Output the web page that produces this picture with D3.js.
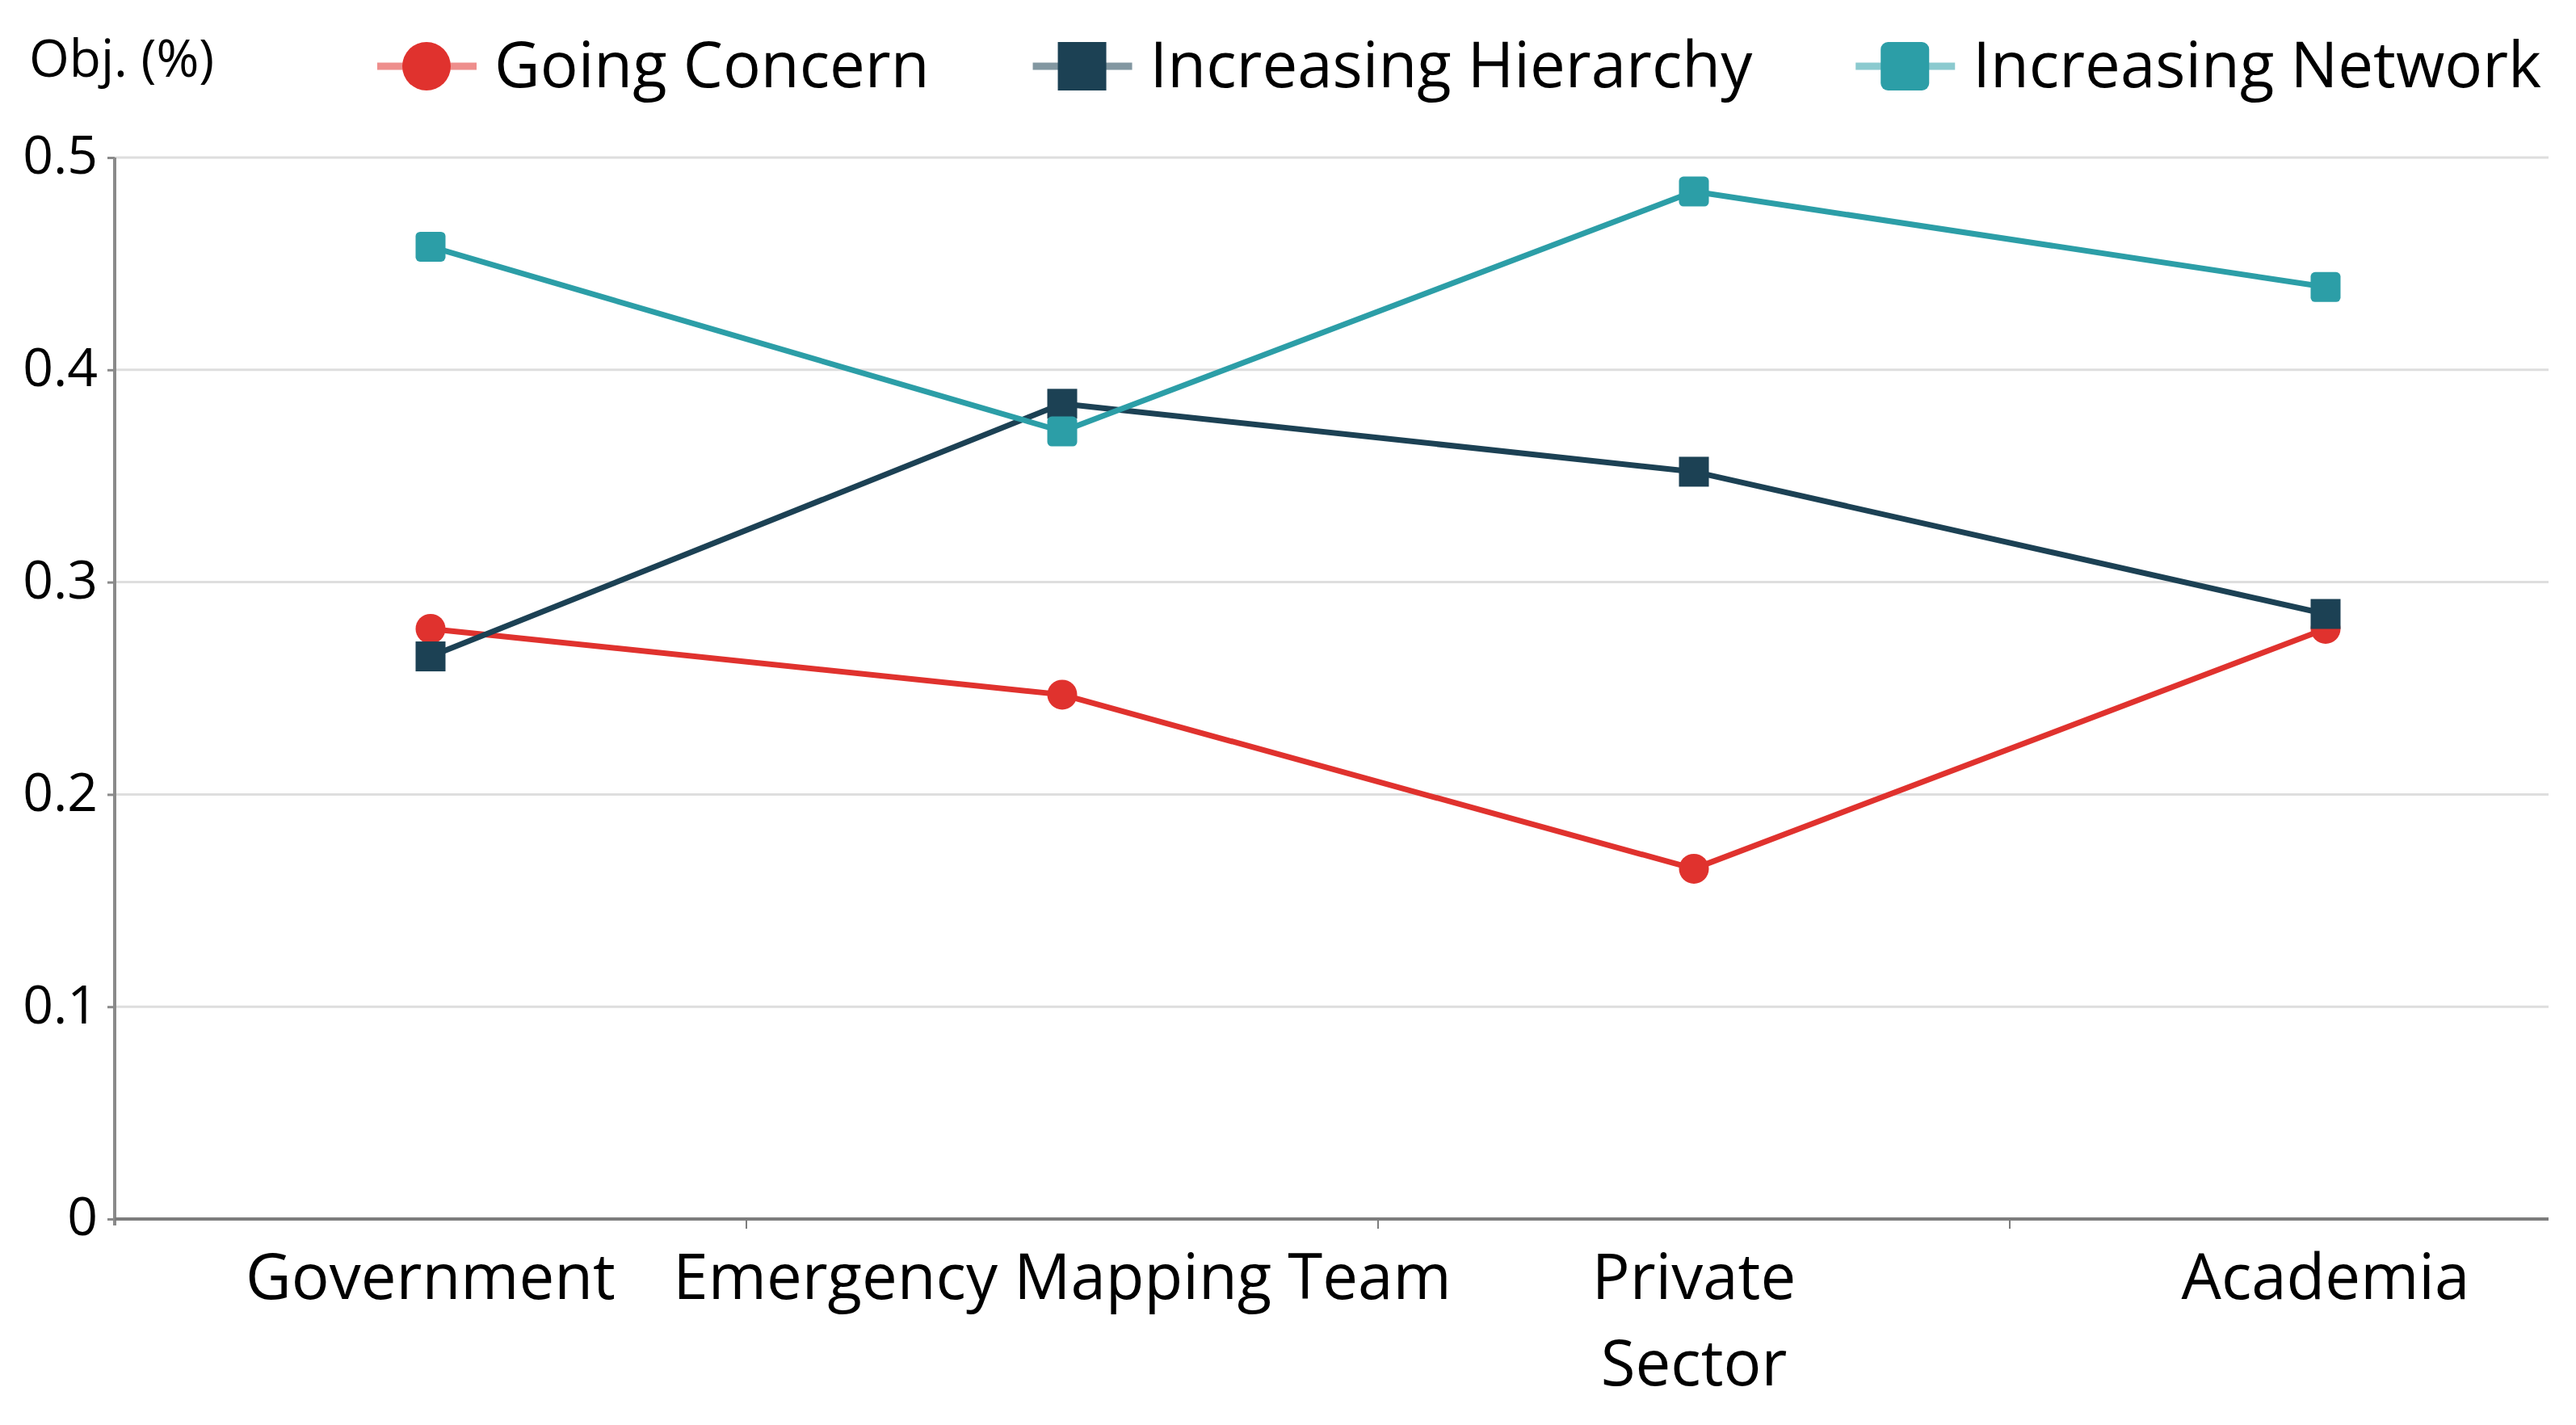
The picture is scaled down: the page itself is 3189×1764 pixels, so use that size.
<!DOCTYPE html>
<html>
<head>
<meta charset="utf-8">
<script src="https://cdn.jsdelivr.net/npm/d3@7"></script>
<style>
  body { margin: 0; background: #fff; }
  text { font-family: "Open Sans", sans-serif; fill: #000; }
</style>
</head>
<body>
<script>
// data
var categories = ["Government", "Emergency Mapping Team", "Private Sector", "Academia"];
var categoryLines = [["Government"], ["Emergency Mapping Team"], ["Private", "Sector"], ["Academia"]];
var goingConcern = [0.278, 0.247, 0.165, 0.278];
var increasingHierarchy = [0.265, 0.384, 0.352, 0.285];
var increasingNetwork = [0.458, 0.371, 0.484, 0.439];
var yTicks = [0, 0.1, 0.2, 0.3, 0.4, 0.5];

var series = [
  {name: "Going Concern", values: goingConcern, color: "#e0322e", shape: "circle"},
  {name: "Increasing Hierarchy", values: increasingHierarchy, color: "#1c4154", shape: "square"},
  {name: "Increasing Network", values: increasingNetwork, color: "#2c9ea7", shape: "rsquare"}
];

var W = 3189, H = 1764;
var plotLeft = 142, plotRight = 3155, plotTop = 195, plotBottom = 1509;

var svg = d3.select("body").append("svg").attr("width", W).attr("height", H);
svg.append("rect").attr("width", W).attr("height", H).attr("fill", "#fff");

// band width is wider than the visible area, the last band is cut at the right
var x = d3.scaleBand().domain(categories).range([plotLeft, plotLeft + 4 * 782]);
var y = d3.scaleLinear().domain([0, 0.5]).range([plotBottom, plotTop]);

// grid lines
svg.append("g").selectAll("line").data(yTicks.filter(d => d > 0)).enter().append("line")
  .attr("x1", plotLeft).attr("x2", plotRight)
  .attr("y1", d => y(d)).attr("y2", d => y(d))
  .attr("stroke", "#dedede").attr("stroke-width", 3);

// y axis
var yAxis = svg.append("g").attr("transform", "translate(" + plotLeft + ",0)")
  .call(d3.axisLeft(y).tickValues(yTicks).tickSize(9).tickPadding(12).tickFormat(d => d === 0 ? "0" : d3.format(".1f")(d)));
yAxis.select(".domain").remove();
yAxis.selectAll(".tick line").attr("stroke", "#8a8a8a").attr("stroke-width", 3);
yAxis.selectAll(".tick text").attr("font-size", 66).attr("font-family", "Open Sans").attr("fill", "#000").attr("dy", "0.3em");
svg.append("line").attr("x1", plotLeft).attr("x2", plotLeft).attr("y1", plotTop).attr("y2", plotBottom + 8)
  .attr("stroke", "#8a8a8a").attr("stroke-width", 4);

// x axis
svg.append("line").attr("x1", plotLeft).attr("x2", plotRight).attr("y1", plotBottom).attr("y2", plotBottom)
  .attr("stroke", "#7d7d7d").attr("stroke-width", 4);
svg.append("g").selectAll("line").data(categories.slice(1)).enter().append("line")
  .attr("x1", d => x(d)).attr("x2", d => x(d))
  .attr("y1", plotBottom).attr("y2", plotBottom + 12)
  .attr("stroke", "#7d7d7d").attr("stroke-width", 2);

var xl = svg.append("g").selectAll("text").data(categories).enter().append("text")
  .attr("x", d => x(d) + x.bandwidth() / 2)
  .attr("y", 1608)
  .attr("text-anchor", "middle")
  .attr("font-size", 78);
xl.each(function(d, i) {
  var t = d3.select(this);
  categoryLines[i].forEach(function(line, j) {
    t.append("tspan").attr("x", x(d) + x.bandwidth() / 2).attr("dy", j === 0 ? 0 : 107).text(line);
  });
});

// lines and markers
var lineGen = d3.line().x((d, i) => x(categories[i]) + x.bandwidth() / 2).y(d => y(d));

function drawMarker(g, shape, color, cx, cy, size) {
  if (shape === "circle") {
    g.append("circle").attr("cx", cx).attr("cy", cy).attr("r", size / 2).attr("fill", color);
  } else {
    g.append("rect").attr("x", cx - size / 2).attr("y", cy - size / 2)
      .attr("width", size).attr("height", size)
      .attr("rx", shape === "rsquare" ? size * 0.15 : 0)
      .attr("fill", color);
  }
}

series.forEach(function(s) {
  var g = svg.append("g");
  g.append("path").datum(s.values).attr("d", lineGen)
    .attr("fill", "none").attr("stroke", s.color).attr("stroke-width", 7)
    .attr("stroke-linejoin", "round");
  s.values.forEach(function(v, i) {
    drawMarker(g, s.shape, s.color, x(categories[i]) + x.bandwidth() / 2, y(v), 37);
  });
});

// header: axis title and legend
svg.append("text").attr("x", 36).attr("y", 95).attr("font-size", 64).text("Obj. (%)");

var lx = 467, ly = 82;
series.forEach(function(s) {
  var g = svg.append("g");
  g.append("line").attr("x1", lx).attr("x2", lx + 123).attr("y1", ly).attr("y2", ly)
    .attr("stroke", s.color).attr("stroke-opacity", 0.55).attr("stroke-width", 9);
  drawMarker(g, s.shape, s.color, lx + 61, ly, 60);
  var t = g.append("text").attr("x", lx + 145).attr("y", 108).attr("font-size", 78).text(s.name);
  lx = lx + 145 + t.node().getComputedTextLength() + 128;
});
</script>
</body>
</html>
